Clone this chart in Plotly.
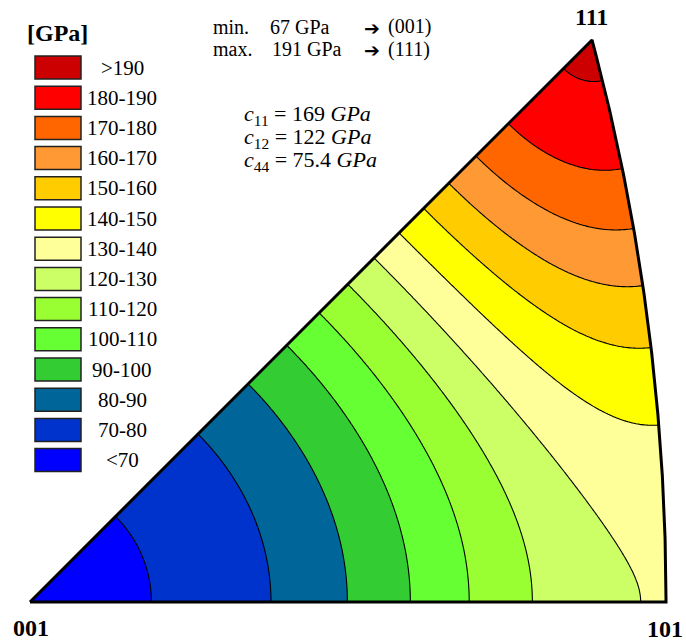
import numpy as np
import plotly.graph_objects as go

# ---- data ----
c11, c12, c44 = 169.0, 122.0, 75.4          # GPa
levels_start, levels_end, levels_step = 70, 190, 10
band_colors = ["#0000FF", "#0033CC", "#006699", "#33CC33", "#66FF33", "#99FF33",
               "#CCFF66", "#FFFF99", "#FFFF00", "#FFCC00", "#FF9933", "#FF6600",
               "#FF0000", "#CC0000"]          # <70 ... >190
legend_labels = [">190", "180-190", "170-180", "160-170", "150-160", "140-150",
                 "130-140", "120-130", "110-120", "100-110", "90-100", "80-90",
                 "70-80", "<70"]
corner_labels = ["001", "101", "111"]

# ---- Young's modulus over stereographic projection ----
den = (c11 - c12) * (c11 + 2 * c12)
S11 = (c11 + c12) / den
S12 = -c12 / den
S44 = 1.0 / c44
S0 = S11 - S12 - S44 / 2

Xmax = np.sqrt(2) - 1
Ymax = 1 / (np.sqrt(3) + 1)
xs = np.linspace(0, Xmax, 320)
ys = np.linspace(0, Ymax, 290)
X, Y = np.meshgrid(xs, ys)
r2 = X**2 + Y**2
l1 = 2 * X / (1 + r2)
l2 = 2 * Y / (1 + r2)
l3 = (1 - r2) / (1 + r2)
J = l1**2 * l2**2 + l2**2 * l3**2 + l3**2 * l1**2
E = np.round(1.0 / (S11 - 2 * S0 * J), 3)

# stepwise colour scale (plotly evaluates band colours on [start-step/2, end+step/2])
n = len(band_colors)
cs = []
for i, c in enumerate(band_colors):
    lo = max(0.0, (i - 0.5) / (n - 1))
    hi = min(1.0, (i + 0.5) / (n - 1))
    cs.append([lo, c])
    cs.append([hi, c])

fig = go.Figure()
fig.add_trace(go.Contour(
    x=xs, y=ys, z=E, colorscale=cs, showscale=False, hoverinfo="skip",
    autocontour=False,
    contours=dict(start=levels_start, end=levels_end, size=levels_step, coloring="fill"),
    line=dict(color="black", width=1.1),
))

# white masks outside the standard triangle
arcY = np.linspace(0, Ymax, 200)
arcX = np.sqrt(2 - arcY**2) - 1
fig.add_trace(go.Scatter(x=[0, Ymax, Ymax, -0.01, -0.01], y=[0, Ymax, 0.45, 0.45, 0],
                         fill="toself", fillcolor="white", mode="none", hoverinfo="skip",
                         showlegend=False))
mx = list(arcX) + [Ymax, 0.46, 0.46, Xmax]
my = list(arcY) + [0.45, 0.45, 0, 0]
fig.add_trace(go.Scatter(x=mx, y=my, fill="toself", fillcolor="white", mode="none",
                         hoverinfo="skip", showlegend=False))
# triangle border
bx = [0] + list(arcX) + [0]
by = [0] + list(arcY) + [0]
fig.add_trace(go.Scatter(x=bx, y=by, mode="lines", line=dict(color="black", width=3),
                         hoverinfo="skip", showlegend=False))

W, H = 686, 644
scale = 636 / Xmax
x0px, y0px = 30, 602

def px(x):
    return x / W

def py(y):
    return 1 - y / H

shapes = []
annotations = []
serif = "Liberation Serif, Times New Roman, serif"

# legend boxes
legend_colors = band_colors[::-1]
for i, (lab, col) in enumerate(zip(legend_labels, legend_colors)):
    yc = 67.5 + i * 30.2
    shapes.append(dict(type="rect", xref="paper", yref="paper",
                       x0=px(35), x1=px(81), y0=py(yc - 11.5), y1=py(yc + 11.5),
                       fillcolor=col, line=dict(color="#222222", width=1.5)))
    annotations.append(dict(x=px(122), y=py(yc), xref="paper", yref="paper",
                            text=lab, showarrow=False, xanchor="center", yanchor="middle",
                            font=dict(family=serif, size=21, color="black")))

annotations.append(dict(x=px(57), y=py(33), xref="paper", yref="paper", text="<b>[GPa]</b>",
                        showarrow=False, xanchor="center", yanchor="middle",
                        font=dict(family=serif, size=24, color="black")))

# min / max text
for yy, a, b, c, bx0 in [(27, "min.", "67 GPa", "(001)", 268), (49, "max.", "191 GPa", "(111)", 270)]:
    for xx, t in [(211, a), (bx0, b), (386, c)]:
        annotations.append(dict(x=px(xx), y=py(yy), xref="paper", yref="paper", text=t,
                                showarrow=False, xanchor="left", yanchor="middle",
                                font=dict(family=serif, size=20, color="black")))
    annotations.append(dict(x=px(362), y=py(yy + 1), xref="paper", yref="paper", text="➔",
                            showarrow=False, xanchor="left", yanchor="middle",
                            font=dict(family="DejaVu Sans", size=19, color="black")))

# elastic constants
for yy, sub, val in [(115, "11", "169"), (138, "12", "122"), (161, "44", "75.4")]:
    annotations.append(dict(x=px(242), y=py(yy), xref="paper", yref="paper",
                            text=f"<i>c</i><sub>{sub}</sub> = {val} <i>GPa</i>",
                            showarrow=False, xanchor="left", yanchor="middle",
                            font=dict(family=serif, size=22, color="black")))

# corner labels
for lab, (xx, yy) in zip(corner_labels, [(31, 628), (665, 629), (591, 17)]):
    annotations.append(dict(x=px(xx), y=py(yy), xref="paper", yref="paper",
                            text=f"<b>{lab}</b>", showarrow=False, xanchor="center",
                            yanchor="middle", font=dict(family=serif, size=24, color="black")))

fig.update_layout(
    width=W, height=H, margin=dict(l=0, r=0, t=0, b=0),
    paper_bgcolor="white", plot_bgcolor="white",
    xaxis=dict(range=[-x0px / scale, (W - x0px) / scale], visible=False, fixedrange=True),
    yaxis=dict(range=[-(H - y0px) / scale, y0px / scale], visible=False, fixedrange=True),
    shapes=shapes, annotations=annotations, showlegend=False,
)
fig.write_html("out.html")
